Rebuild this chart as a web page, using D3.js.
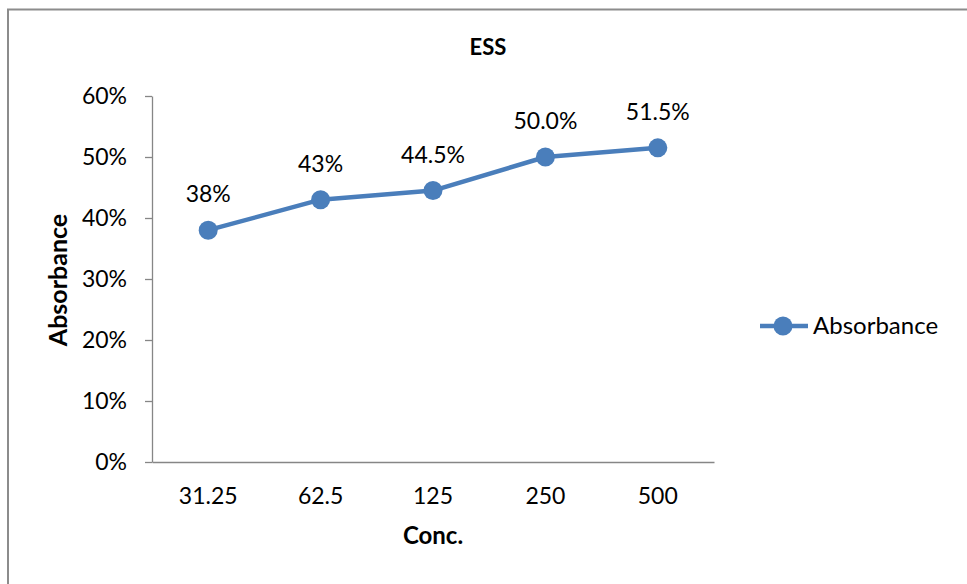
<!DOCTYPE html>
<html>
<head>
<meta charset="utf-8">
<script src="https://cdn.jsdelivr.net/npm/d3@7"></script>
<style>
  html, body { margin: 0; padding: 0; background: #fff; }
  svg { display: block; font-family: Lato, "Open Sans", sans-serif; }
</style>
</head>
<body>
<svg id="chart" width="967" height="584"></svg>
<script>
// Absorbance by concentration
const categories = ["31.25", "62.5", "125", "250", "500"];
const absorbance = [0.38, 0.43, 0.445, 0.50, 0.515];
const valueLabels = ["38%", "43%", "44.5%", "50.0%", "51.5%"];
const yTicks = [0, 0.1, 0.2, 0.3, 0.4, 0.5, 0.6];
const seriesName = "Absorbance";

const color = "#4a7ebb";
const axisColor = "#868686";

const svg = d3.select("#chart");

// outer chart frame
svg.append("rect")
  .attr("x", 8).attr("y", 9.5)
  .attr("width", 1000).attr("height", 700)
  .attr("fill", "#fff")
  .attr("stroke", "#8c8c8c").attr("stroke-width", 2);

const plot = { left: 152, right: 714, top: 96, bottom: 462 };

const x = d3.scaleBand().domain(categories).range([plot.left, plot.right]);
const y = d3.scaleLinear().domain([0, 0.6]).range([plot.bottom, plot.top]);

// y axis
const yAxis = svg.append("g")
  .attr("transform", `translate(${plot.left},0)`)
  .call(d3.axisLeft(y).tickValues(yTicks).tickFormat(d3.format(".0%")).tickSize(7).tickSizeOuter(0).tickPadding(18));
yAxis.select(".domain").attr("stroke", axisColor).attr("stroke-width", 1.3);
yAxis.selectAll(".tick line").attr("stroke", axisColor).attr("stroke-width", 1.3);
yAxis.selectAll(".tick text").attr("font-size", 23).attr("fill", "#000").attr("font-family", "Lato");

// x axis
const xAxis = svg.append("g")
  .attr("transform", `translate(0,${plot.bottom})`)
  .call(d3.axisBottom(x).tickSize(0).tickSizeOuter(0).tickPadding(26));
xAxis.select(".domain").attr("stroke", axisColor).attr("stroke-width", 1.3);
xAxis.selectAll(".tick text").attr("font-size", 23).attr("fill", "#000").attr("font-family", "Lato");

// titles
svg.append("text")
  .attr("x", 488).attr("y", 55)
  .attr("text-anchor", "middle")
  .attr("font-size", 22).attr("font-weight", "bold")
  .text("ESS");

svg.append("text")
  .attr("x", 433).attr("y", 544)
  .attr("text-anchor", "middle")
  .attr("font-size", 24).attr("font-weight", "bold")
  .text("Conc.");

svg.append("text")
  .attr("transform", "translate(67,280) rotate(-90)")
  .attr("text-anchor", "middle")
  .attr("font-size", 25).attr("font-weight", "bold")
  .text("Absorbance");

// series line and markers
const pts = categories.map((c, i) => ({ c, v: absorbance[i], label: valueLabels[i] }));
const cx = d => x(d.c) + x.bandwidth() / 2;

svg.append("path")
  .datum(pts)
  .attr("fill", "none")
  .attr("stroke", color)
  .attr("stroke-width", 4.5)
  .attr("stroke-linejoin", "round")
  .attr("d", d3.line().x(cx).y(d => y(d.v)));

svg.selectAll("circle.pt")
  .data(pts)
  .join("circle")
  .attr("class", "pt")
  .attr("cx", cx).attr("cy", d => y(d.v))
  .attr("r", 9.5)
  .attr("fill", color);

svg.selectAll("text.lbl")
  .data(pts)
  .join("text")
  .attr("class", "lbl")
  .attr("x", cx).attr("y", d => y(d.v) - 28)
  .attr("text-anchor", "middle")
  .attr("font-size", 23)
  .text(d => d.label);

// legend
const lg = svg.append("g").attr("transform", "translate(760,326)");
lg.append("line").attr("x1", 0).attr("x2", 48).attr("stroke", color).attr("stroke-width", 4.5);
lg.append("circle").attr("cx", 23).attr("r", 9.5).attr("fill", color);
lg.append("text").attr("x", 53).attr("y", 8).attr("font-size", 24).text(seriesName);
</script>
</body>
</html>
